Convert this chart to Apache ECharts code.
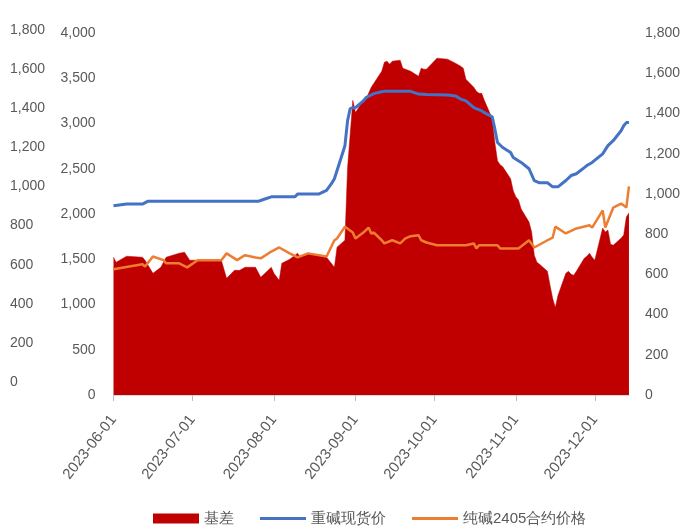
<!DOCTYPE html>
<html><head><meta charset="utf-8">
<script src="https://cdn.jsdelivr.net/npm/echarts@6/dist/echarts.min.js"></script>
<style>html,body{margin:0;padding:0;background:#fff}#c{width:683px;height:526px}</style>
</head><body><div id="c"></div>
<script>
// 基差 (right axis, 0-1800)
const basisDates = ['2023-06-01','2023-06-02','2023-06-06','2023-06-12','2023-06-13','2023-06-16','2023-06-19','2023-06-21','2023-06-26','2023-06-28','2023-06-30','2023-07-12','2023-07-14','2023-07-17','2023-07-19','2023-07-21','2023-07-25','2023-07-27','2023-07-31','2023-08-01','2023-08-03','2023-08-04','2023-08-07','2023-08-10','2023-08-11','2023-08-14','2023-08-21','2023-08-24','2023-08-25','2023-08-28','2023-08-29','2023-08-31','2023-09-01','2023-09-04','2023-09-05','2023-09-07','2023-09-08','2023-09-11','2023-09-12','2023-09-13','2023-09-14','2023-09-15','2023-09-18','2023-09-19','2023-09-20','2023-09-21','2023-09-22','2023-09-25','2023-09-26','2023-09-27','2023-09-28','2023-10-02','2023-10-06','2023-10-09','2023-10-11','2023-10-12','2023-10-13','2023-10-16','2023-10-17','2023-10-18','2023-10-19','2023-10-20','2023-10-23','2023-10-24','2023-10-25','2023-10-26','2023-10-27','2023-10-30','2023-10-31','2023-11-01','2023-11-02','2023-11-03','2023-11-06','2023-11-07','2023-11-08','2023-11-09','2023-11-10','2023-11-13','2023-11-14','2023-11-15','2023-11-16','2023-11-17','2023-11-20','2023-11-21','2023-11-22','2023-11-23','2023-11-24','2023-11-27','2023-11-28','2023-11-29','2023-11-30','2023-12-01','2023-12-04','2023-12-05','2023-12-06','2023-12-07','2023-12-08','2023-12-11','2023-12-12','2023-12-13','2023-12-14'];
const basisValues = [685,660,690,685,670,605,635,685,705,710,670,670,580,620,620,635,635,585,635,605,570,655,675,705,685,705,685,635,735,770,1130,1465,1405,1465,1470,1530,1550,1610,1655,1660,1645,1660,1665,1625,1620,1615,1610,1585,1625,1620,1620,1675,1670,1650,1635,1625,1570,1530,1510,1500,1500,1465,1375,1255,1165,1145,1135,1075,1015,985,970,925,860,810,695,660,650,615,545,480,435,495,605,615,600,595,615,680,690,705,685,670,830,810,820,750,745,780,795,885,905];

// 重碱现货价 (left axis, 0-4000)
const spotDates = ['2023-06-01','2023-06-06','2023-06-12','2023-06-14','2023-07-26','2023-07-28','2023-07-31','2023-08-09','2023-08-10','2023-08-18','2023-08-21','2023-08-23','2023-08-24','2023-08-25','2023-08-28','2023-08-29','2023-08-30','2023-08-31','2023-09-01','2023-09-04','2023-09-05','2023-09-07','2023-09-08','2023-09-11','2023-09-12','2023-09-22','2023-09-25','2023-09-28','2023-10-06','2023-10-09','2023-10-11','2023-10-13','2023-10-16','2023-10-19','2023-10-20','2023-10-23','2023-10-24','2023-10-25','2023-10-27','2023-10-30','2023-10-31','2023-11-03','2023-11-06','2023-11-08','2023-11-10','2023-11-13','2023-11-15','2023-11-17','2023-11-20','2023-11-22','2023-11-24','2023-11-28','2023-11-30','2023-12-04','2023-12-06','2023-12-08','2023-12-11','2023-12-12','2023-12-13','2023-12-14'];
const spotValues = [2090,2110,2110,2140,2140,2160,2190,2190,2220,2220,2260,2340,2390,2480,2755,3030,3165,3175,3175,3250,3285,3315,3330,3350,3355,3355,3325,3320,3315,3305,3270,3250,3175,3140,3120,3075,2940,2790,2735,2680,2625,2570,2500,2370,2345,2345,2300,2300,2370,2425,2445,2535,2570,2665,2755,2810,2920,2975,3010,3010];

// 纯碱2405合约价格 (left axis, 0-4000)
const futDates = ['2023-06-01','2023-06-07','2023-06-12','2023-06-13','2023-06-16','2023-06-20','2023-06-21','2023-06-26','2023-06-29','2023-07-03','2023-07-12','2023-07-14','2023-07-18','2023-07-21','2023-07-25','2023-07-27','2023-07-31','2023-08-03','2023-08-07','2023-08-10','2023-08-14','2023-08-21','2023-08-24','2023-08-25','2023-08-28','2023-08-31','2023-09-01','2023-09-04','2023-09-06','2023-09-07','2023-09-08','2023-09-11','2023-09-12','2023-09-15','2023-09-18','2023-09-20','2023-09-22','2023-09-25','2023-09-26','2023-09-28','2023-10-02','2023-10-13','2023-10-16','2023-10-17','2023-10-18','2023-10-25','2023-10-26','2023-11-02','2023-11-06','2023-11-08','2023-11-13','2023-11-15','2023-11-16','2023-11-20','2023-11-24','2023-11-29','2023-11-30','2023-12-04','2023-12-05','2023-12-08','2023-12-11','2023-12-12','2023-12-13','2023-12-14'];
const futValues = [1390,1420,1445,1420,1530,1490,1455,1455,1410,1490,1490,1565,1490,1545,1520,1510,1585,1630,1565,1520,1565,1530,1710,1730,1860,1795,1730,1795,1850,1785,1795,1710,1675,1710,1675,1730,1755,1765,1710,1685,1655,1655,1675,1620,1655,1655,1620,1620,1710,1630,1710,1740,1860,1785,1840,1875,1850,2040,1850,2070,2115,2095,2070,2305];

const seriesNames = ['基差','重碱现货价','纯碱2405合约价格'];
const xMin = '2023-06-01', xMax = '2023-12-14';

const zip = (d, v) => d.map((x, i) => [x, v[i]]);
const fmt = v => v.toLocaleString('en-US');
const labelColor = '#595959';
const font = 'Liberation Sans';
const lineIcon = 'path://M0,0L46,0L46,3L0,3Z';

const chart = echarts.init(document.getElementById('c'));
chart.setOption({
  animation: false,
  textStyle: { fontFamily: font },
  grid: [
    { left: 113.5, right: 54, top: 33, bottom: 131 },
    { left: 10, width: 40, top: 30, bottom: 144 }
  ],
  legend: {
    left: 148, top: 506, itemWidth: 46, itemHeight: 10, itemGap: 26,
    symbolKeepAspect: true,
    textStyle: { fontSize: 15, color: labelColor, fontFamily: font },
    data: [
      { name: seriesNames[0], icon: 'rect' },
      { name: seriesNames[1], icon: lineIcon },
      { name: seriesNames[2], icon: lineIcon }
    ]
  },
  xAxis: [
    {
      type: 'time', gridIndex: 0, min: xMin, max: xMax,
      minInterval: 28 * 864e5, maxInterval: 31 * 864e5,
      axisLine: { lineStyle: { color: '#D9D9D9', width: 1 } },
      axisTick: { show: true, length: 6, lineStyle: { color: '#BFBFBF' } },
      splitLine: { show: false },
      axisLabel: {
        rotate: 52, fontSize: 15, color: labelColor, margin: 22,
        formatter: '{yyyy}-{MM}-{dd}', showMaxLabel: false
      }
    },
    { type: 'value', gridIndex: 1, show: false }
  ],
  yAxis: [
    {
      type: 'value', gridIndex: 0, position: 'left', min: 0, max: 4000, interval: 500,
      axisLine: { show: false }, axisTick: { show: false }, splitLine: { show: false },
      axisLabel: { fontSize: 14, color: labelColor, margin: 18, formatter: fmt }
    },
    {
      type: 'value', gridIndex: 0, position: 'right', min: 0, max: 1800, interval: 200,
      axisLine: { show: false }, axisTick: { show: false }, splitLine: { show: false },
      axisLabel: { fontSize: 14, color: labelColor, margin: 16, formatter: fmt }
    },
    {
      type: 'value', gridIndex: 1, position: 'left', min: 0, max: 1800, interval: 200,
      axisLine: { show: false }, axisTick: { show: false }, splitLine: { show: false },
      axisLabel: { inside: true, margin: 0, fontSize: 14, color: labelColor, formatter: fmt }
    }
  ],
  series: [
    {
      name: seriesNames[0], type: 'line', xAxisIndex: 0, yAxisIndex: 1,
      data: zip(basisDates, basisValues), showSymbol: false, symbol: 'none',
      lineStyle: { width: 0.5, color: '#C00000' },
      itemStyle: { color: '#C00000' },
      areaStyle: { color: '#C00000', opacity: 1 }
    },
    {
      name: seriesNames[1], type: 'line', xAxisIndex: 0, yAxisIndex: 0,
      data: zip(spotDates, spotValues), showSymbol: false, symbol: 'none',
      lineStyle: { width: 3, color: '#4472C4' }, itemStyle: { color: '#4472C4' }
    },
    {
      name: seriesNames[2], type: 'line', xAxisIndex: 0, yAxisIndex: 0,
      data: zip(futDates, futValues), showSymbol: false, symbol: 'none',
      lineStyle: { width: 2.5, color: '#ED7D31' }, itemStyle: { color: '#ED7D31' }
    }
  ]
});
</script></body></html>
